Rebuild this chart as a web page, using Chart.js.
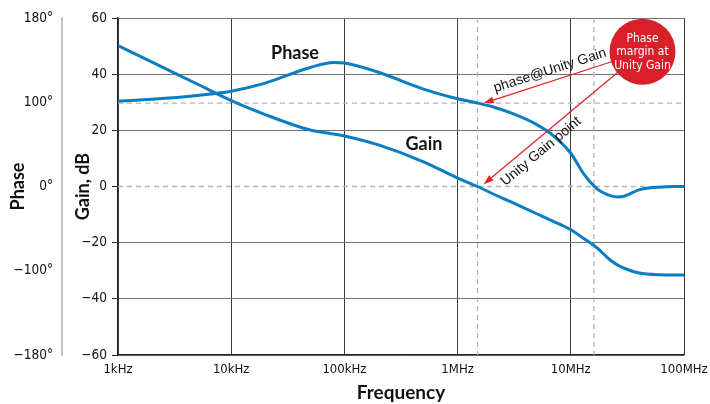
<!DOCTYPE html>
<html><head><meta charset="utf-8">
<script src="https://cdn.jsdelivr.net/npm/chart.js@4.4.0/dist/chart.umd.min.js"></script>
<style>html,body{margin:0;padding:0;background:#fff;overflow:hidden}</style>
</head><body>
<canvas id="c" width="710" height="404"></canvas>
<script>
// ---------- data ----------
const frequencies = [1e3, 2e3, 5e3, 1e4, 2e4, 5e4, 8e4, 1e5, 2e5, 5e5, 1e6, 1.5e6, 2e6, 3e6, 5e6, 7e6, 1e7, 1.3e7, 1.7e7, 2.2e7, 2.6e7, 3e7, 4e7, 6e7, 1e8];
const gainDb    = [50.2, 44.3, 36.5, 30.6, 25.6, 20.1, 18.7, 18.0, 14.8, 8.8, 3.0, 0, -2.4, -5.6, -9.7, -12.4, -15.4, -18.5, -21.8, -26, -28, -29.2, -30.8, -31.4, -31.5];
const phaseDeg  = [101, 102.8, 106.4, 110.5, 118.2, 133, 137.8, 137.2, 128.5, 112.5, 103.3, 99, 95, 87, 73.5, 60.5, 39.5, 15, -2.5, -10.5, -12.5, -11.3, -4, -0.8, 0];

const freqTicks  = [1e3, 1e4, 1e5, 1e6, 1e7, 1e8];
const freqLabels = ['1kHz', '10kHz', '100kHz', '1MHz', '10MHz', '100MHz'];
const gainTicks  = [-60, -40, -20, 0, 20, 40, 60];
const phaseTicks = [-180, -100, 0, 100, 180];
const phaseTickLabels = ['\u2212180°', '\u2212100°', '0°', '100°', '180°'];

const unityGainFreq = 1.5e6;     // gain crosses 0 dB
const phaseAtUnity = 99;         // phase at unity gain
const phaseZeroFreq = 1.6e7;     // phase crosses 0°

// ---------- phase axis: ticks evenly spaced ----------
class PhaseScale extends Chart.LinearScale {
  getPixelForValue(v) {
    const t = phaseTicks, n = t.length - 1;
    let i = 0;
    while (i < n - 1 && v > t[i + 1]) i++;
    const dec = (i + (v - t[i]) / (t[i + 1] - t[i])) / n;
    return this.getPixelForDecimal(dec);
  }
  getValueForPixel(p) {
    const n = phaseTicks.length - 1;
    const d = this.getDecimalForPixel(p) * n;
    const i = Math.min(Math.max(Math.floor(d), 0), n - 1);
    return phaseTicks[i] + (d - i) * (phaseTicks[i + 1] - phaseTicks[i]);
  }
}
PhaseScale.id = 'phase';
PhaseScale.defaults = Chart.LinearScale.defaults;
Chart.register(PhaseScale);

const BLUE = '#0b7dc2';
const RED = '#e2232b';
const NARROW = '"Liberation Sans Narrow", "DejaVu Sans Condensed", sans-serif';
const BOLD = 'Lato, "Liberation Sans", sans-serif';

const annot = {
  id: 'annot',
  beforeDatasetsDraw(chart) {
    const { ctx, chartArea: a, scales } = chart;
    const x = scales.x, y = scales.y, yp = scales.yPhase;
    ctx.save();
    ctx.strokeStyle = '#b4b4b4';
    ctx.lineWidth = 1.3;
    ctx.setLineDash([5, 4]);
    [y.getPixelForValue(0), yp.getPixelForValue(phaseAtUnity)].forEach(py => {
      ctx.beginPath(); ctx.moveTo(a.left, py); ctx.lineTo(a.right, py); ctx.stroke();
    });
    [unityGainFreq, phaseZeroFreq].forEach(f => {
      const px = x.getPixelForValue(f);
      ctx.beginPath(); ctx.moveTo(px, a.top); ctx.lineTo(px, a.bottom); ctx.stroke();
    });
    ctx.restore();
  },
  afterDatasetsDraw(chart) {
    const { ctx, scales } = chart;
    const x = scales.x, y = scales.y, yp = scales.yPhase;
    ctx.save();
    // curve labels
    ctx.fillStyle = '#111';
    ctx.font = 'bold 18px ' + BOLD;
    ctx.textAlign = 'center'; ctx.textBaseline = 'middle';
    ctx.fillText('Phase', x.getPixelForValue(3.66e4), y.getPixelForValue(47.3));
    ctx.fillText('Gain', x.getPixelForValue(5.05e5), y.getPixelForValue(15));

    // circle
    const cx = x.getPixelForValue(4.3e7), cy = y.getPixelForValue(48), r = 33;
    const tips = [
      [x.getPixelForValue(1.7e6), yp.getPixelForValue(phaseAtUnity)],
      [x.getPixelForValue(1.7e6), y.getPixelForValue(0.8)]
    ];
    ctx.strokeStyle = RED; ctx.fillStyle = RED; ctx.lineWidth = 1.3;
    const angles = [];
    tips.forEach(([tx, ty]) => {
      const dx = tx - cx, dy = ty - cy, d = Math.hypot(dx, dy);
      const ux = dx / d, uy = dy / d;
      const sx = cx + ux * (r - 2), sy = cy + uy * (r - 2);
      const hl = 10, hw = 3.5;
      const bx = tx - ux * hl, by = ty - uy * hl;
      ctx.beginPath(); ctx.moveTo(sx, sy); ctx.lineTo(bx, by); ctx.stroke();
      ctx.beginPath();
      ctx.moveTo(tx, ty);
      ctx.lineTo(bx - uy * hw, by + ux * hw);
      ctx.lineTo(bx + uy * hw, by - ux * hw);
      ctx.closePath(); ctx.fill();
      angles.push(Math.atan2(sy - ty, sx - tx));
    });
    ctx.fillStyle = '#d8202a';
    ctx.beginPath(); ctx.arc(cx, cy, r, 0, Math.PI * 2); ctx.fill();
    ctx.fillStyle = '#fff';
    ctx.font = '12px ' + NARROW;
    ['Phase', 'margin at', 'Unity Gain'].forEach((t, i) => ctx.fillText(t, cx, cy - 13 + i * 13.5));

    // rotated arrow texts
    ctx.fillStyle = '#111';
    ctx.font = '14px "Liberation Sans", Arial, sans-serif';
    const texts = [
      ['phase@Unity Gain', x.getPixelForValue(6.55e6), y.getPixelForValue(41.3), angles[0]],
      ['Unity Gain point', x.getPixelForValue(5.46e6), y.getPixelForValue(12.5), angles[1]]
    ];
    texts.forEach(([t, px, py, ang]) => {
      ctx.save(); ctx.translate(px, py); ctx.rotate(ang);
      ctx.fillText(t, 0, 0); ctx.restore();
    });
    ctx.restore();
  }
};

new Chart(document.getElementById('c'), {
  type: 'line',
  data: {
    datasets: [
      {
        label: 'Gain', yAxisID: 'y',
        data: frequencies.map((f, i) => ({ x: f, y: gainDb[i] })),
        borderColor: BLUE, borderWidth: 3, pointRadius: 0, cubicInterpolationMode: 'monotone', fill: false
      },
      {
        label: 'Phase', yAxisID: 'yPhase',
        data: frequencies.map((f, i) => ({ x: f, y: phaseDeg[i] })),
        borderColor: BLUE, borderWidth: 3, pointRadius: 0, cubicInterpolationMode: 'monotone', fill: false
      }
    ]
  },
  options: {
    responsive: false,
    animation: false,
    layout: { padding: { top: 18, right: 26, bottom: 0, left: 0 } },
    plugins: { legend: { display: false }, tooltip: { enabled: false } },
    scales: {
      x: {
        type: 'logarithmic', min: 1e3, max: 1e8,
        afterBuildTicks: s => { s.ticks = freqTicks.map(v => ({ value: v })); },
        afterFit: s => { s.height = 49; s.paddingRight = 0; s.paddingLeft = 0; },
        ticks: {
          callback: (v, i) => freqLabels[i], autoSkip: false, maxRotation: 0,
          padding: 7, color: '#111', font: { family: NARROW, size: 13 }
        },
        grid: { color: '#3c3c3c', lineWidth: 1, drawTicks: false },
        border: { color: '#222', width: 1.3 },
        title: { display: true, text: 'Frequency', color: '#111', font: { family: BOLD, size: 19, weight: 'bold' }, padding: { top: 0, bottom: 0 } }
      },
      y: {
        type: 'linear', position: 'left', weight: 0, min: -60, max: 60,
        afterBuildTicks: s => { s.ticks = gainTicks.map(v => ({ value: v })); },
        afterFit: s => { s.width = 56; },
        ticks: {
          callback: v => String(v).replace('-', '\u2212'),
          padding: 5, color: '#111', font: { family: NARROW, size: 13.5 }
        },
        grid: {
          color: c => (c.tick && c.tick.value === 0) ? 'rgba(0,0,0,0)' : '#707070',
          tickColor: '#222', tickLength: 6, lineWidth: 1
        },
        border: { color: '#222', width: 1.3 },
        title: { display: true, text: 'Gain, dB', color: '#111', font: { family: BOLD, size: 18, weight: 'bold' }, padding: { top: 10, bottom: 0 } }
      },
      yPhase: {
        type: 'phase', position: 'left', weight: 1, min: -180, max: 180,
        afterBuildTicks: s => { s.ticks = phaseTicks.map(v => ({ value: v })); },
        afterFit: s => { s.width = 62; },
        ticks: {
          callback: v => phaseTickLabels[phaseTicks.indexOf(v)],
          padding: 1, color: '#111', font: { family: NARROW, size: 13.5 }
        },
        grid: { display: false, drawOnChartArea: false },
        border: { display: true, color: '#c4c4c4', width: 2 },
        title: { display: true, text: 'Phase', color: '#111', font: { family: BOLD, size: 18, weight: 'bold' }, padding: { top: 7, bottom: 0 } }
      }
    }
  },
  plugins: [annot]
});
</script>
</body></html>
